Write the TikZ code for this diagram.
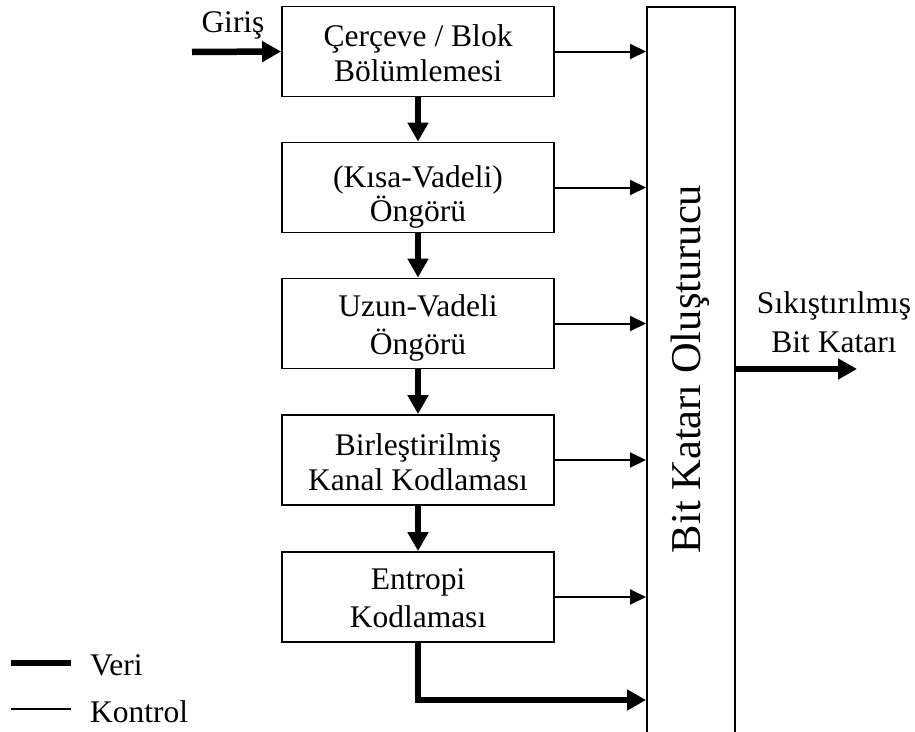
\documentclass[tikz,border=0pt]{standalone}
\usepackage{fontspec}
\setmainfont{Liberation Serif}
\usetikzlibrary{arrows.meta}

% two centred lines whose baseline is the first line; optional extra line gap
\newcommand{\twoline}[3][0pt]{\begin{tabular}[t]{@{}c@{}}#2\\[#1]#3\end{tabular}}

\tikzset{
  stagebox/.style={draw, line width=1.8pt, minimum width=272pt, minimum height=90pt,
    inner sep=0pt, font=\fontsize{31.5pt}{35pt}\selectfont,
    text height=22pt, text depth=#1},
  stagebox/.default=32pt,
  plaintext/.style={inner sep=0pt, font=\fontsize{31.5pt}{35pt}\selectfont},
  dataarrow/.style={line width=6.5pt, -{Triangle[length=19pt,width=20pt]}},
  ctrlarrow/.style={line width=2pt, -{Triangle[length=16pt,width=15pt]}},
  dataline/.style={line width=6.5pt},
  ctrlline/.style={line width=2pt}
}

\begin{document}
\begin{tikzpicture}[x=1pt, y=-1pt]
  \useasboundingbox (0,0) rectangle (915,731);

  % processing stages
  \node[stagebox=31.6pt] (b1) at (418,51.5) {\twoline{Çerçeve / Blok}{Bölümlemesi}};
  \node[stagebox=22pt] (b2) at (418,187.5) {\twoline[-2pt]{(Kısa-Vadeli)}{Öngörü}};
  \node[stagebox=36pt] (b3) at (418,323.5) {\twoline[1.5pt]{Uzun-Vadeli}{Öngörü}};
  \node[stagebox=32pt] (b4) at (418,460) {\twoline[0.7pt]{Birleştirilmiş}{Kanal Kodlaması}};
  \node[stagebox=37.4pt] (b5) at (418,597) {\twoline[3pt]{Entropi}{Kodlaması}};

  % bitstream builder (open at the bottom edge)
  \node[draw, line width=2pt, minimum width=88pt, minimum height=753pt, inner sep=0pt]
    (bs) at (691,383.5) {};
  \node[inner sep=0pt, rotate=90, anchor=base, font=\fontsize{42.5pt}{46pt}\selectfont]
    (bstext) at (700,369) {Bit Katarı Oluşturucu};

  % input
  \coordinate (in) at (192,52);
  \node[plaintext, anchor=base] (intext) at (233,32) {Giriş};
  \draw[dataarrow] (in) -- (b1.west);

  % data path between stages
  \draw[dataarrow] (b1.south) -- (b2.north);
  \draw[dataarrow] (b2.south) -- (b3.north);
  \draw[dataarrow] (b3.south) -- (b4.north);
  \draw[dataarrow] (b4.south) -- (b5.north);
  \coordinate (dataentry) at (646,700);
  \draw[dataarrow] (b5.south) |- (bs.west |- dataentry);

  % control information to the bitstream builder
  \draw[ctrlarrow] (b1.east) -- (bs.west |- b1.east);
  \draw[ctrlarrow] (b2.east) -- (bs.west |- b2.east);
  \draw[ctrlarrow] (b3.east) -- (bs.west |- b3.east);
  \draw[ctrlarrow] (b4.east) -- (bs.west |- b4.east);
  \draw[ctrlarrow] (b5.east) -- (bs.west |- b5.east);

  % output
  \coordinate (out) at (857,369);
  \draw[dataarrow] (bs.east |- out) -- (out);
  \node[plaintext, anchor=base, font=\fontsize{31.5pt}{39pt}\selectfont] (outtext) at (834,313)
    {\twoline{Sıkıştırılmış}{Bit Katarı}};

  % legend
  \coordinate (l1a) at (11,663);
  \coordinate (l1b) at (71,663);
  \coordinate (l2a) at (11,709);
  \coordinate (l2b) at (71,709);
  \draw[dataline] (l1a) -- (l1b);
  \draw[ctrlline] (l2a) -- (l2b);
  \node[plaintext, anchor=base west] (veri) at (90,675) {Veri};
  \node[plaintext, anchor=base west] (kontrol) at (90,722) {Kontrol};
\end{tikzpicture}
\end{document}
